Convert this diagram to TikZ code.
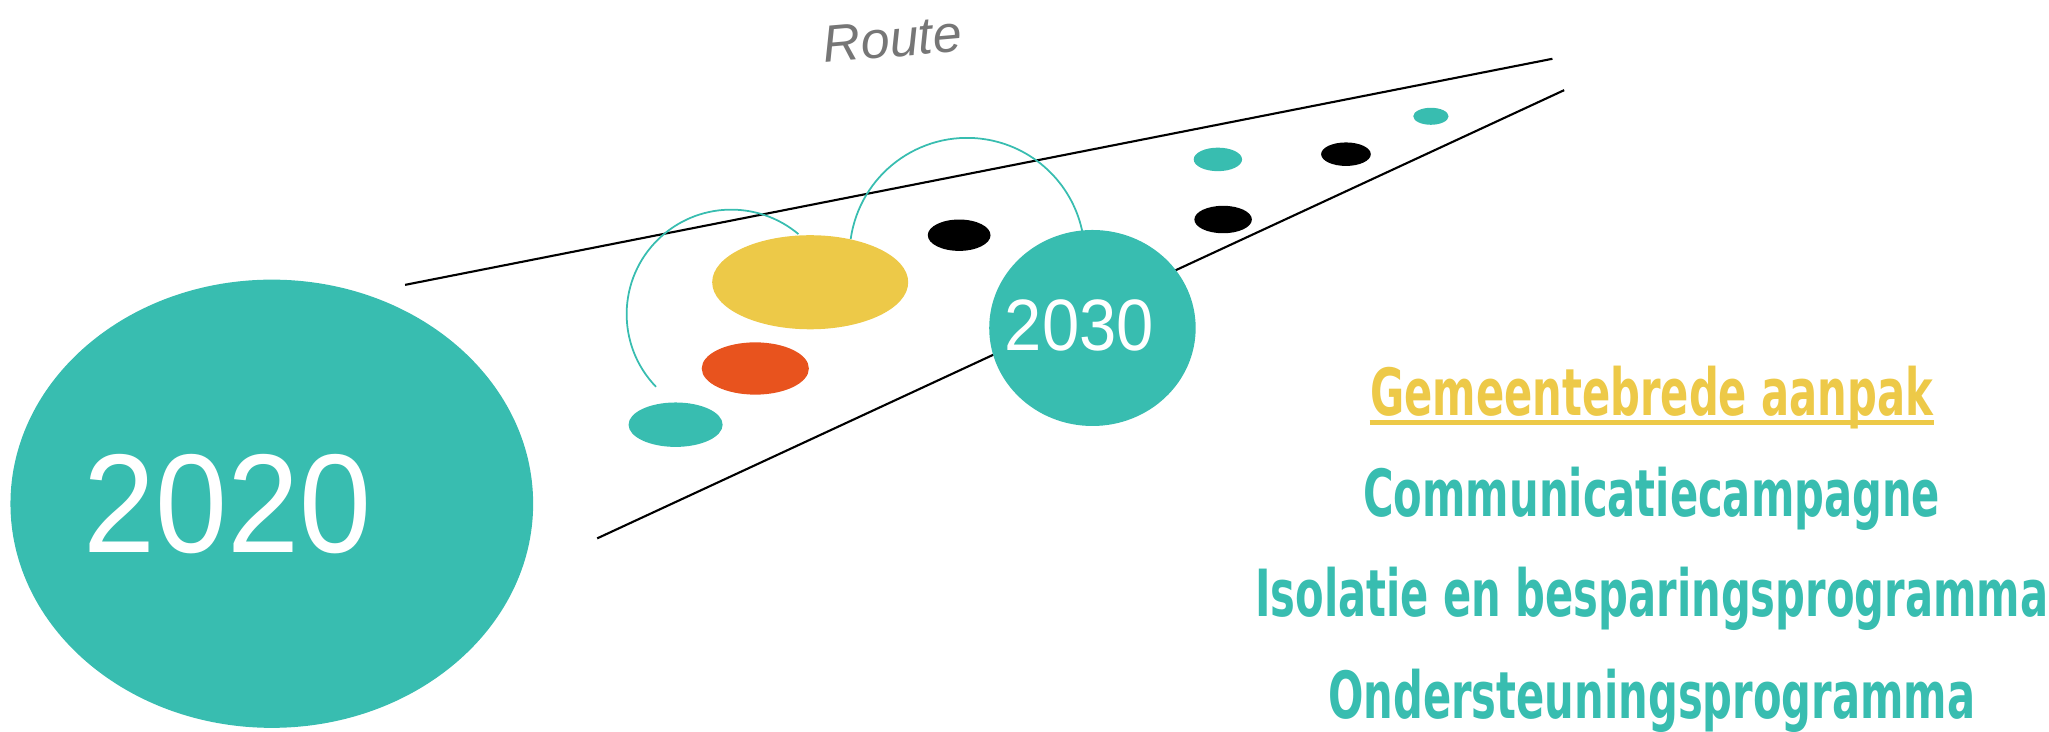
\documentclass[tikz,border=0pt]{standalone}
\usepackage{fontspec}
\usetikzlibrary{shapes.geometric}
\newfontfamily\yearfont[FakeStretch=0.92]{Liberation Sans}
\newfontfamily\progfont[FakeStretch=0.712]{DejaVu Sans Condensed}
\newfontfamily\routefont{Liberation Sans}
\definecolor{routeteal}{RGB}{56,189,176}
\definecolor{routeyellow}{RGB}{237,201,72}
\definecolor{routeorange}{RGB}{232,83,30}
\definecolor{routegray}{RGB}{118,118,118}
\newdimen\unitpx
\unitpx=0.013068cm
\tikzset{
  spot/.style 2 args={ellipse, inner sep=0pt, minimum width=#1\unitpx, minimum height=#2\unitpx},
  routeline/.style={black, line width=0.6pt},
  arcline/.style={routeteal, line width=0.5pt},
  yeartext/.style={inner sep=0pt, text=white},
  progtext/.style={anchor=base, inner sep=0pt, font=\progfont\bfseries\fontsize{18.5}{18.5}\selectfont}
}

\begin{document}
\begin{tikzpicture}[x=0.013068cm, y=-0.013068cm]
      \useasboundingbox (0,0) rectangle (1568,560);
      % the route
      \coordinate (topstart) at (310,218);
      \coordinate (topend) at (1188,45);
      \coordinate (lowstart) at (457,412);
      \coordinate (lowend) at (1197,69);
      \draw[routeline] (topstart) -- (topend);
      \draw[routeline] (lowstart) -- (lowend);
      \node[font=\routefont\itshape\fontsize{14.8}{14.8}\selectfont, text=routegray, rotate=5] (route) at (683,30) {Route};
      % jumps
      \coordinate (jumpone) at (502,296);
      \coordinate (jumptwo) at (651,183);
      \draw[arcline] (jumpone) arc[start angle=136, end angle=310, radius=80];
      \draw[arcline] (jumptwo) arc[start angle=188, end angle=348, radius=90];
      % steps
      \node[spot={150}{72}, fill=routeyellow] (aanpakspot) at (620,216) {};
      \node[spot={82}{40}, fill=routeorange] (oranjespot) at (578,282) {};
      \node[spot={72}{34}, fill=routeteal] (eerstespot) at (517,325) {};
      \node[spot={48}{24}, fill=black] (zwartone) at (734,180) {};
      \node[spot={44}{21}, fill=black] (zwarttwo) at (936,168) {};
      \node[spot={37}{18}, fill=routeteal] (tealone) at (932,122) {};
      \node[spot={38}{18}, fill=black] (zwartthree) at (1030,118) {};
      \node[spot={27}{13}, fill=routeteal] (tealtwo) at (1095,89) {};
      % start and goal
      \node[spot={400}{343}, fill=routeteal] (start) at (208,385.5) {};
      \node[spot={158}{150}, fill=routeteal] (goal) at (836,251) {};
      \node[yeartext, font=\yearfont\fontsize{40}{40}\selectfont] (y2020) at (174,386) {2020};
      \node[yeartext, font=\yearfont\fontsize{20.7}{20.7}\selectfont] (y2030) at (826,249) {2030};
      % programmes
      \node[progtext, text=routeyellow] (aanpak) at (1264,318) {Gemeentebrede aanpak};
      \draw[routeyellow, line width=1.5pt] ([yshift=-1.9pt]aanpak.base west) -- ([yshift=-1.9pt]aanpak.base east);
      \node[progtext, text=routeteal] (campagne) at (1264,395) {Communicatiecampagne};
      \node[progtext, text=routeteal] (isolatie) at (1264,472) {Isolatie en besparingsprogramma};
      \node[progtext, text=routeteal] (steun) at (1264,550) {Ondersteuningsprogramma};
\end{tikzpicture}
\end{document}
